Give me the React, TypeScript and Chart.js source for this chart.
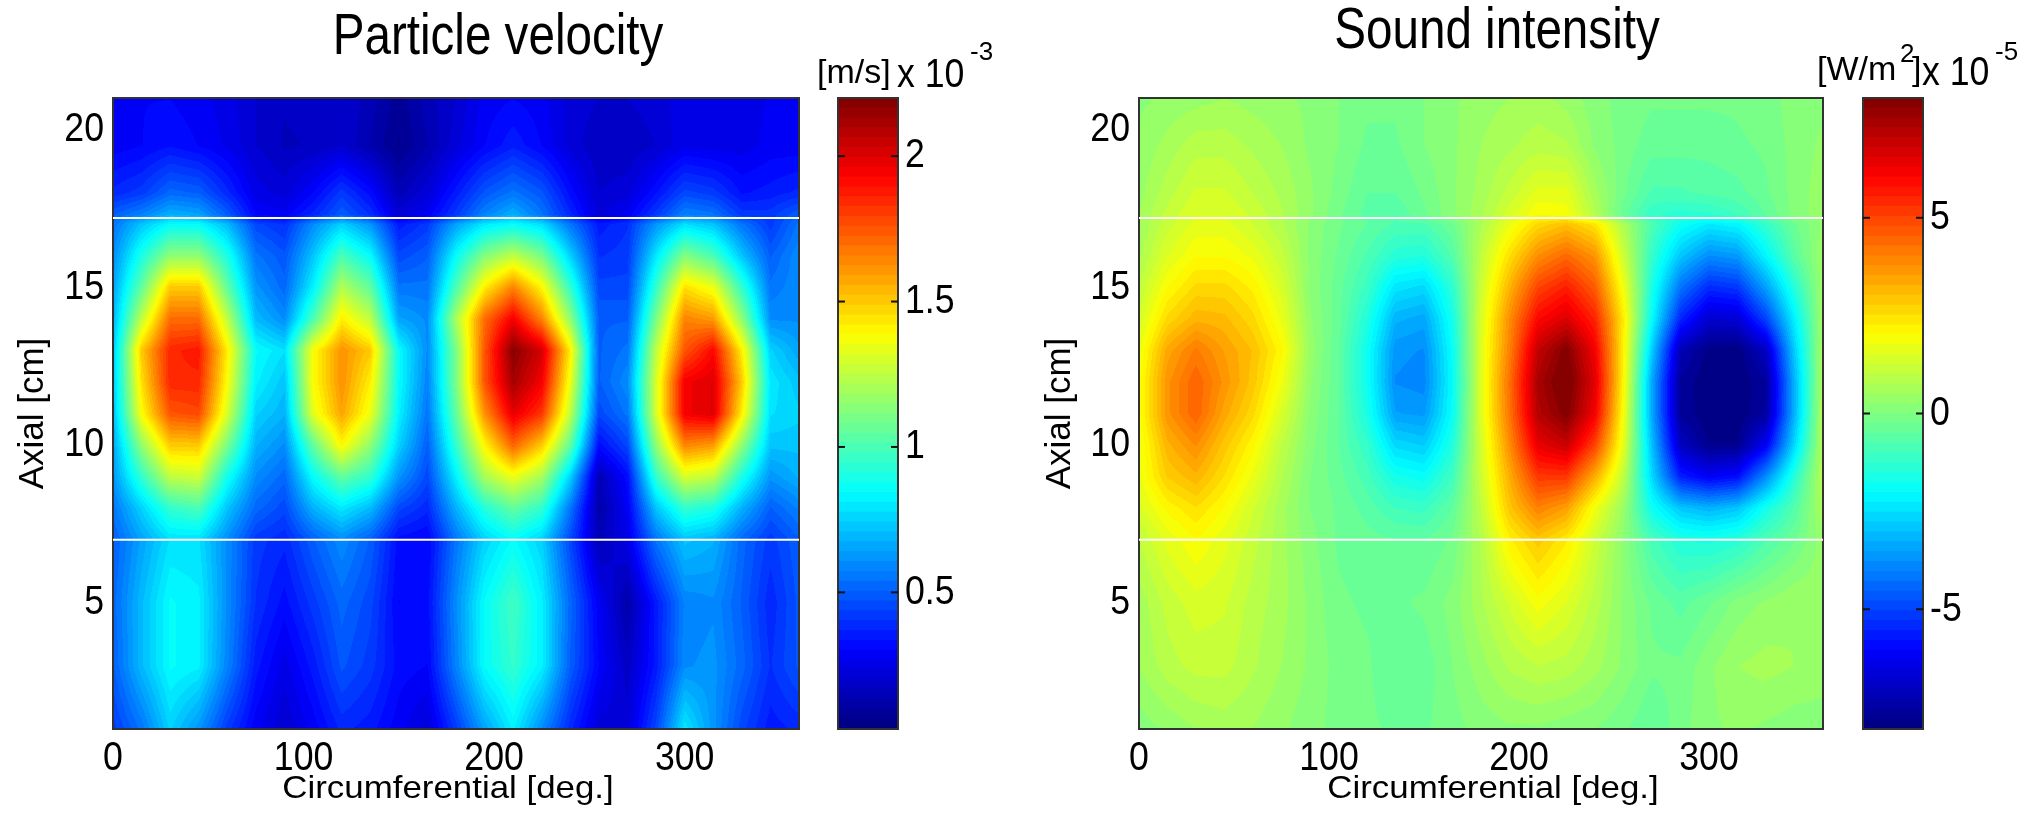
import React, { useEffect, useRef } from "react";
import { Chart, registerables } from "chart.js";

Chart.register(...registerables);

const circumferential = [0, 15, 30, 45, 60, 75, 90, 105, 120, 135, 150, 165, 180, 195, 210, 225, 240, 255, 270, 285, 300, 315, 330, 345, 360];
const axial = [21, 19.5, 18, 17.3, 17, 16, 15, 14, 13, 12, 11, 10, 9, 8, 7, 5, 3, 1];

const velocity = [
  [.28,.3,.3,.28,.25,.2,.17,.18,.2,.15,.08,.15,.2,.28,.3,.28,.22,.2,.2,.22,.25,.25,.25,.27,.28],
  [.28,.3,.33,.3,.26,.2,.16,.17,.2,.13,.06,.13,.22,.3,.36,.3,.22,.17,.17,.2,.26,.25,.25,.28,.28],
  [.38,.42,.52,.5,.38,.25,.22,.3,.42,.32,.15,.22,.35,.48,.55,.48,.32,.2,.22,.33,.45,.42,.33,.35,.38],
  [.5,.58,.68,.65,.5,.3,.28,.38,.5,.4,.22,.28,.42,.58,.68,.55,.38,.22,.28,.42,.58,.55,.42,.42,.5],
  [.55,.72,.85,.85,.7,.45,.4,.6,.75,.62,.35,.42,.65,.8,.85,.78,.55,.35,.4,.62,.78,.72,.55,.42,.55],
  [.6,.9,1.15,1.15,.9,.55,.48,.72,1.0,.85,.45,.5,.85,1.12,1.25,1.1,.75,.4,.42,.8,1.12,1.0,.72,.5,.6],
  [.65,1.05,1.5,1.5,1.05,.62,.52,.82,1.22,1.05,.55,.55,1.0,1.42,1.65,1.4,.95,.45,.45,.95,1.45,1.35,.95,.55,.6],
  [.68,1.25,1.7,1.7,1.25,.7,.6,1.0,1.42,1.25,.65,.6,1.2,1.7,1.95,1.65,1.15,.5,.5,1.1,1.65,1.6,1.15,.6,.6],
  [.72,1.5,1.85,1.88,1.42,.85,.78,1.38,1.62,1.5,.85,.6,1.1,1.75,2.18,2.02,1.42,.5,.55,1.25,1.75,1.92,1.42,.75,.65],
  [.72,1.45,1.85,1.85,1.38,.82,.72,1.38,1.62,1.42,.85,.58,1.1,1.75,2.12,1.95,1.35,.5,.6,1.3,1.95,2.0,1.5,.8,.72],
  [.7,1.38,1.75,1.78,1.3,.75,.68,1.33,1.58,1.35,.82,.55,1.05,1.62,1.98,1.82,1.25,.45,.55,1.3,1.95,2.0,1.42,.78,.75],
  [.65,1.15,1.5,1.5,1.1,.68,.6,1.05,1.4,1.15,.75,.5,.95,1.4,1.72,1.5,1.05,.32,.45,1.15,1.65,1.6,1.15,.72,.72],
  [.62,.95,1.25,1.28,.88,.6,.52,.85,1.05,.95,.62,.45,.82,1.2,1.35,1.2,.75,.15,.32,.95,1.3,1.25,.9,.62,.68],
  [.55,.75,.95,1.0,.72,.52,.45,.68,.8,.7,.45,.38,.68,.92,1.05,.95,.55,.12,.28,.72,.95,.9,.68,.5,.58],
  [.5,.65,.78,.78,.6,.42,.38,.5,.6,.5,.32,.3,.55,.75,.85,.75,.45,.15,.25,.55,.72,.68,.52,.42,.5],
  [.52,.7,.85,.82,.6,.4,.32,.42,.52,.45,.3,.32,.6,.85,.98,.82,.52,.28,.12,.35,.58,.6,.5,.38,.48],
  [.5,.7,.85,.82,.58,.35,.25,.35,.48,.42,.32,.3,.58,.85,.95,.82,.5,.3,.18,.35,.6,.62,.52,.4,.48],
  [.42,.55,.75,.62,.42,.28,.2,.28,.38,.35,.28,.22,.42,.65,.82,.6,.38,.22,.22,.45,.8,.62,.45,.35,.38],
];

const intensity = [
  [.2,.3,.4,.5,.4,.3,.2,0,-.2,-.2,0,.2,.4,.5,.6,.4,.1,-.1,-.2,-.2,-.2,-.2,-.1,.1,.2],
  [.3,.6,.9,.9,.7,.5,.2,0,-.3,-.3,0,.2,.5,.7,.9,.8,.2,-.1,-.4,-.4,-.4,-.3,-.2,.1,.3],
  [.4,.9,1.3,1.3,1.0,.7,.3,-.1,-.5,-.5,-.2,.2,.6,1.1,1.6,1.6,.6,-.2,-.8,-.8,-.7,-.6,-.3,.1,.4],
  [.5,1.1,1.5,1.5,1.2,.8,.3,-.2,-.6,-.7,-.3,.2,.7,1.4,2.0,1.9,.8,-.4,-1.2,-1.4,-1.3,-1.0,-.5,.1,.4],
  [.5,1.15,1.6,1.6,1.25,.8,.2,-.2,-.5,-.8,-.8,-.3,.7,1.7,2.6,3.0,2.4,.7,-.8,-1.8,-2.3,-2.1,-1.2,-.3,.3],
  [.7,1.5,2.0,2.0,1.7,1.1,.2,-.3,-.8,-1.4,-1.5,-.7,1.0,2.5,3.8,4.4,3.7,1.2,-1.2,-2.9,-3.8,-3.6,-2.1,-.6,.5],
  [1.0,2.0,2.6,2.6,2.2,1.4,.2,-.4,-1.1,-2.4,-2.6,-1.3,1.2,3.2,5.0,5.6,4.6,1.8,-1.6,-4.2,-5.4,-5.2,-3.5,-1.4,.5],
  [1.3,2.6,3.2,3.1,2.6,1.7,.3,-.4,-1.5,-3.2,-3.4,-1.7,1.4,3.8,6.0,6.6,5.5,2.3,-2,-5.5,-6.8,-6.7,-5.0,-2.2,.6],
  [1.7,3.4,4.1,3.5,3.0,2.1,.4,-.5,-1.8,-3.7,-3.8,-1.9,1.5,4.0,7.0,8.0,6.2,2.2,-2.8,-7.2,-7.9,-8.0,-7.0,-2.8,.7],
  [1.9,3.7,4.5,3.7,2.9,1.8,.3,-.5,-1.8,-3.8,-3.9,-2.0,1.5,4.3,7.4,8.3,6.5,2.1,-3.4,-7.6,-8.05,-8.05,-7.6,-3.2,.8],
  [1.9,3.7,4.5,3.4,2.6,1.4,.2,-.5,-1.6,-3.5,-3.6,-1.9,1.5,4.2,7.2,8.0,6.2,1.9,-3.4,-7.6,-8.05,-8.05,-7.5,-3.2,.9],
  [1.7,3.2,3.8,2.9,2.1,1.0,.1,-.5,-1.2,-2.6,-2.8,-1.5,1.3,3.8,6.4,6.9,5.0,1.6,-3.0,-7.0,-7.8,-7.8,-6.2,-2.6,.9],
  [1.7,2.8,3.2,2.5,1.7,.8,0,-.4,-.9,-1.7,-1.9,-1.0,1.2,3.3,5.2,5.2,3.3,1.0,-2.6,-5.6,-6.2,-5.9,-3.8,-1.4,.9],
  [1.4,2.1,2.5,2.0,1.3,.6,0,-.3,-.6,-1.0,-1.1,-.5,1.0,2.9,4.0,3.5,1.8,.4,-1.8,-2.9,-3.2,-2.9,-1.7,-.7,.7],
  [1.0,1.6,2.0,1.6,1.1,.6,.1,-.3,-.4,-.5,-.5,-.2,.8,2.2,2.9,2.3,1.2,.2,-.9,-1.5,-1.6,-1.4,-.8,-.3,.4],
  [.6,1.1,1.4,1.3,.9,.6,.2,-.2,-.3,-.3,-.2,.1,.7,1.3,1.9,1.5,.9,.2,-.3,-.6,-.3,.1,.3,.5,.4],
  [.5,.9,1.1,1.1,.8,.5,.2,-.1,-.2,-.5,-.4,0,.4,.8,1.0,.9,.6,.2,-.2,-.2,.2,.5,.6,.5,.4],
  [.1,.3,.5,.6,.5,.3,.1,-.1,-.2,-.3,-.3,-.1,.1,.2,.2,.1,0,-.2,-.5,-.1,.2,.3,.2,.1,.1],
];

const xTicks = [0, 100, 200, 300];
const yTicks = [5, 10, 15, 20];
const markerLines = [17.2, 7];
const velocityBarTicks = [0.5, 1, 1.5, 2];
const intensityBarTicks = [-5, 0, 5];
const velocityRange = [0.03, 2.2];
const intensityRange = [-8.06, 8.06];

const SANS = "'Liberation Sans', Arial, sans-serif";
const BORDER = "#333333";
const TICK_PX = 41;
const TITLE_PX = 57;
const XLABEL_PX = 32;
const widthBySize: Record<string, number> = { [TICK_PX]: 0.87, [TITLE_PX]: 0.835, [XLABEL_PX]: 1.09 };

const clamp01 = (v: number) => Math.max(0, Math.min(1, v));
const jetTable = Array.from({ length: 64 }, (_, i) => {
  const t = (i + 0.5) / 64;
  return [1.5 - Math.abs(4 * t - 3), 1.5 - Math.abs(4 * t - 2), 1.5 - Math.abs(4 * t - 1)].map((c) => Math.round(clamp01(c) * 255));
});
const levelOf = (v: number, range: number[]) => Math.max(0, Math.min(63, Math.floor(((v - range[0]) / (range[1] - range[0])) * 64)));

// The reference's lettering is stretched unevenly; every label is drawn with its width scaled per font size.
const letterWidthPlugin = {
  id: "letterWidth",
  beforeDraw(chart: any) {
    const ctx = chart.ctx;
    if (ctx.__wrapped) return;
    ctx.__wrapped = true;
    const plain = ctx.fillText.bind(ctx);
    ctx.fillText = (text: string, x: number, y: number) => {
      const m = /(\d+(?:\.\d+)?)px/.exec(ctx.font);
      const k = m ? widthBySize[m[1]] : undefined;
      if (!k) return plain(text, x, y);
      ctx.save();
      ctx.translate(x, y);
      ctx.scale(k, 1);
      plain(text, 0, 0);
      ctx.restore();
    };
  },
};

const heatPlugin = (range: number[]) => ({
  id: "heat",
  beforeDatasetsDraw(chart: any) {
    const { left, top, right, bottom } = chart.chartArea;
    const sx = chart.scales.x;
    const sy = chart.scales.y;
    const nodes = chart.data.datasets[0].data;
    const nc = circumferential.length;
    const w = Math.round(right - left);
    const h = Math.round(bottom - top);
    const img = chart.ctx.createImageData(w, h);
    const colAt = new Float64Array(w);
    for (let i = 0; i < w; i++) colAt[i] = sx.getValueForPixel(left + i + 0.5);
    for (let j = 0; j < h; j++) {
      const yv = sy.getValueForPixel(top + j + 0.5);
      let r = 0;
      while (r < axial.length - 2 && yv < axial[r + 1]) r++;
      const fy = clamp01((axial[r] - yv) / (axial[r] - axial[r + 1]));
      for (let i = 0; i < w; i++) {
        const xv = colAt[i];
        let c = 0;
        while (c < nc - 2 && xv > circumferential[c + 1]) c++;
        const fx = clamp01((xv - circumferential[c]) / (circumferential[c + 1] - circumferential[c]));
        const a = nodes[r * nc + c].v;
        const b = nodes[r * nc + c + 1].v;
        const d = nodes[(r + 1) * nc + c].v;
        const e = nodes[(r + 1) * nc + c + 1].v;
        const v = (a * (1 - fx) + b * fx) * (1 - fy) + (d * (1 - fx) + e * fx) * fy;
        const rgb = jetTable[levelOf(v, range)];
        const k = (j * w + i) * 4;
        img.data[k] = rgb[0];
        img.data[k + 1] = rgb[1];
        img.data[k + 2] = rgb[2];
        img.data[k + 3] = 255;
      }
    }
    chart.ctx.putImageData(img, Math.round(left), Math.round(top));
    chart.ctx.save();
    chart.ctx.strokeStyle = BORDER;
    chart.ctx.lineWidth = 2;
    chart.ctx.strokeRect(left, top, right - left, bottom - top);
    chart.ctx.restore();
  },
});

type Note = { text: string; x: number; y: number; font: string; align?: CanvasTextAlign };

const notesPlugin = (notes: Note[]) => ({
  id: "notes",
  afterDraw(chart: any) {
    const ctx = chart.ctx;
    ctx.save();
    ctx.fillStyle = "#000";
    ctx.textBaseline = "alphabetic";
    notes.forEach((n) => {
      ctx.font = n.font;
      ctx.textAlign = n.align || "left";
      ctx.fillText(n.text, n.x, n.y);
    });
    ctx.restore();
  },
});

const barFramePlugin = {
  id: "barFrame",
  afterDatasetsDraw(chart: any) {
    const { left, top, right, bottom } = chart.chartArea;
    const ctx = chart.ctx;
    ctx.save();
    ctx.strokeStyle = BORDER;
    ctx.lineWidth = 2;
    ctx.strokeRect(left, top, right - left, bottom - top);
    ctx.fillStyle = "#111";
    chart.scales.y.ticks.forEach((t: any) => {
      const py = chart.scales.y.getPixelForValue(t.value);
      ctx.fillRect(left, py - 1, 7, 2);
      ctx.fillRect(right - 7, py - 1, 7, 2);
    });
    ctx.restore();
  },
};

function mainConfig(opts: any) {
  const nodes: any[] = [];
  axial.forEach((y, r) => circumferential.forEach((x, c) => nodes.push({ x, y, v: opts.values[r][c] })));
  return {
    type: "scatter",
    data: {
      datasets: [
        { label: opts.title, data: nodes, pointRadius: 0, showLine: false },
        ...markerLines.map((y) => ({
          label: "Section " + y,
          data: [{ x: 0, y }, { x: 360, y }],
          showLine: true,
          borderColor: "#ffffff",
          borderWidth: 2,
          pointRadius: 0,
          clip: false,
        })),
      ],
    },
    options: {
      responsive: false,
      animation: false,
      events: [],
      plugins: {
        legend: { display: false },
        tooltip: { enabled: false },
        title: {
          display: true,
          text: opts.title,
          color: "#000",
          font: { family: SANS, size: TITLE_PX, weight: "normal", lineHeight: 1 },
          padding: { top: opts.titleTop, bottom: 98 - TITLE_PX - opts.titleTop },
        },
      },
      scales: {
        x: {
          type: "linear",
          min: 0,
          max: 360,
          grid: { display: false, drawTicks: false },
          border: { display: false },
          afterBuildTicks: (s: any) => { s.ticks = xTicks.map((value) => ({ value })); },
          afterFit: (s: any) => { s.height = 84; },
          ticks: {
            color: "#000",
            padding: 5,
            maxRotation: 0,
            font: { family: SANS, size: TICK_PX },
            callback: (v: any) => String(v),
          },
        },
        y: {
          type: "linear",
          min: 1,
          max: 21,
          grid: { display: false, drawTicks: false },
          border: { display: false },
          afterBuildTicks: (s: any) => { s.ticks = yTicks.map((value) => ({ value })); },
          afterFit: (s: any) => { s.width = opts.axisWidth; },
          title: {
            display: true,
            text: "Axial [cm]",
            color: "#000",
            font: { family: SANS, size: 35 },
            padding: { top: opts.yTitlePad, bottom: 0 },
          },
          ticks: {
            color: "#000",
            padding: 9,
            font: { family: SANS, size: TICK_PX },
            callback: (v: any) => String(v),
          },
        },
        spacer: {
          type: "linear",
          position: "right",
          grid: { display: false, drawTicks: false },
          border: { display: false },
          ticks: { display: false },
          afterFit: (s: any) => { s.width = opts.spaceRight; },
        },
      },
    },
    plugins: [
      letterWidthPlugin,
      heatPlugin(opts.range),
      notesPlugin([{ text: "Circumferential [deg.]", x: opts.xLabelX, y: 798, font: `${XLABEL_PX}px ${SANS}`, align: "center" }]),
    ],
  };
}

function barConfig(opts: any) {
  const [lo, hi] = opts.range;
  const step = (hi - lo) / 64;
  return {
    type: "bar",
    data: {
      labels: [opts.unit],
      datasets: jetTable.map((rgb, i) => ({
        label: "level " + i,
        data: [[Math.max(lo, lo + (i - 0.3) * step), lo + (i + 1) * step]],
        backgroundColor: `rgb(${rgb[0]},${rgb[1]},${rgb[2]})`,
        borderWidth: 0,
        barPercentage: 1,
        categoryPercentage: 1,
      })),
    },
    options: {
      responsive: false,
      animation: false,
      events: [],
      layout: { padding: { left: opts.padLeft, right: 0, top: 98, bottom: 84 } },
      plugins: { legend: { display: false }, tooltip: { enabled: false }, title: { display: false } },
      scales: {
        x: { stacked: true, display: false },
        y: {
          type: "linear",
          position: "right",
          min: lo,
          max: hi,
          grid: { display: false, drawTicks: false },
          border: { display: false },
          afterBuildTicks: (s: any) => { s.ticks = opts.ticks.map((value: number) => ({ value })); },
          afterFit: (s: any) => { s.width = opts.axisWidth; },
          ticks: {
            color: "#000",
            padding: 7,
            font: { family: SANS, size: TICK_PX },
            callback: (v: any) => String(v),
          },
        },
      },
    },
    plugins: [letterWidthPlugin, barFramePlugin, notesPlugin(opts.notes)],
  };
}

const panels = [
  {
    left: 0, width: 996,
    config: () => mainConfig({ title: "Particle velocity", values: velocity, range: velocityRange, spaceRight: 197, titleTop: 10, axisWidth: 113, yTitlePad: 12, xLabelX: 448 }),
  },
  {
    left: 810, width: 190,
    config: () => barConfig({
      unit: "Particle velocity colour scale", range: velocityRange, ticks: velocityBarTicks, padLeft: 28, axisWidth: 102,
      notes: [
        { text: "[m/s]", x: 7, y: 83, font: `34px ${SANS}` },
        { text: "x 10", x: 87, y: 87, font: `${TICK_PX}px ${SANS}` },
        { text: "-3", x: 160, y: 60, font: `26px ${SANS}` },
      ],
    }),
  },
  {
    left: 1000, width: 994,
    config: () => mainConfig({ title: "Sound intensity", values: intensity, range: intensityRange, spaceRight: 171, titleTop: 4, axisWidth: 139, yTitlePad: 39, xLabelX: 493 }),
  },
  {
    left: 1815, width: 225,
    config: () => barConfig({
      unit: "Sound intensity colour scale", range: intensityRange, ticks: intensityBarTicks, padLeft: 48, axisWidth: 117,
      notes: [
        { text: "[W/m", x: 2, y: 80, font: `34px ${SANS}` },
        { text: "2", x: 85, y: 62, font: `26px ${SANS}` },
        { text: "]", x: 97, y: 80, font: `34px ${SANS}` },
        { text: "x 10", x: 107, y: 85, font: `${TICK_PX}px ${SANS}` },
        { text: "-5", x: 180, y: 60, font: `26px ${SANS}` },
      ],
    }),
  },
];

export default function App() {
  const refs = useRef<(HTMLCanvasElement | null)[]>([]);
  useEffect(() => {
    const charts = panels.map((p, i) => new Chart(refs.current[i] as any, p.config() as any));
    return () => charts.forEach((c) => c.destroy());
  }, []);
  return (
    <div style={{ position: "absolute", left: 0, top: 0, width: 2040, height: 813, overflow: "hidden", background: "#fff" }}>
      {panels.map((p, i) => (
        <canvas
          key={i}
          ref={(el) => { refs.current[i] = el; }}
          width={p.width}
          height={813}
          style={{ position: "absolute", left: p.left, top: 0, width: p.width, height: 813 }}
        />
      ))}
    </div>
  );
}
